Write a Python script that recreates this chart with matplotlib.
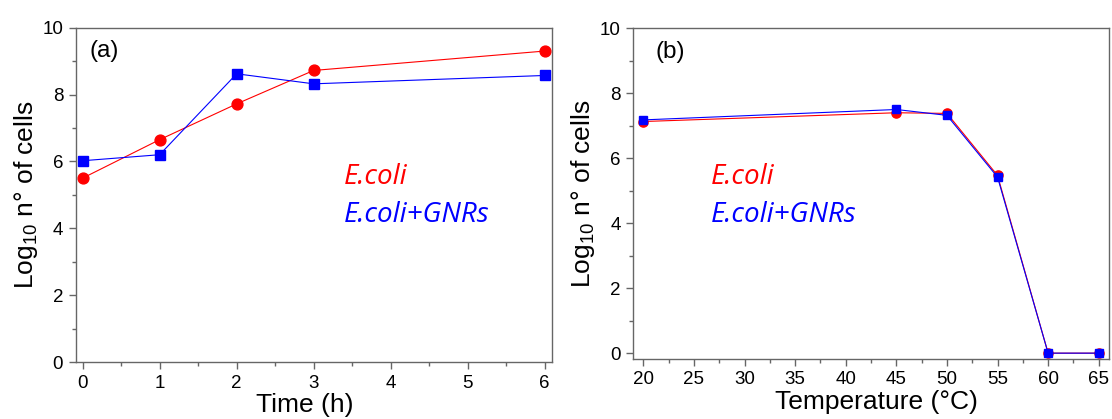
import matplotlib
matplotlib.use("Agg")
import matplotlib.pyplot as plt
from matplotlib.ticker import MultipleLocator

plt.rcParams['font.family'] = ['Liberation Sans', 'DejaVu Sans']
plt.rcParams['mathtext.fontset'] = 'custom'
plt.rcParams['mathtext.rm'] = 'Liberation Sans'

# panel (a): growth over time
time_h = [0, 1, 2, 3, 6]
ecoli_time = [5.5, 6.65, 7.72, 8.72, 9.3]
gnrs_time = [6.02, 6.2, 8.62, 8.32, 8.57]

# panel (b): temperature
temp_c = [20, 45, 50, 55, 60, 65]
ecoli_temp = [7.13, 7.4, 7.38, 5.47, 0, 0]
gnrs_temp = [7.18, 7.5, 7.32, 5.42, 0, 0]

red = '#ff0000'
blue = '#0000ff'
legend_font = ['Open Sans', 'DejaVu Sans']

fig = plt.figure(figsize=(11.12, 4.19), dpi=100)
ax1 = fig.add_axes([0.0681, 0.136, 0.4286, 0.798])
ax2 = fig.add_axes([0.5695, 0.1432, 0.4281, 0.7893])


def style(ax):
    for s in ax.spines.values():
        s.set_color('#666666')
        s.set_linewidth(1.0)
    ax.tick_params(which='major', direction='out', length=5, width=1,
                   labelsize=13.5, color='#666666', pad=4)
    ax.tick_params(which='minor', direction='out', length=3, width=1, color='#666666')
    ax.tick_params(top=False, right=False)


ax1.plot(time_h, ecoli_time, color=red, lw=0.8, marker='o', ms=7.8)
ax1.plot(time_h, gnrs_time, color=blue, lw=0.8, marker='s', ms=6.8)
ax1.set_xlim(-0.09, 6.1)
ax1.set_ylim(0, 10)
ax1.xaxis.set_major_locator(MultipleLocator(1))
ax1.xaxis.set_minor_locator(MultipleLocator(0.5))
ax1.yaxis.set_major_locator(MultipleLocator(2))
ax1.yaxis.set_minor_locator(MultipleLocator(1))
style(ax1)
ax1.set_xlabel('Time (h)', fontsize=19, labelpad=1, x=0.481)
ax1.set_ylabel(r'Log$_{10}$ n° of cells', fontsize=19, labelpad=2)
ax1.text(0.0285, 0.962, '(a)', transform=ax1.transAxes, fontsize=17.5, va='top')
ax1.text(0.563, 0.5316, 'E.coli', transform=ax1.transAxes, fontsize=20,
         color=red, style='italic', family=legend_font, va='baseline')
ax1.text(0.563, 0.4197, 'E.coli+GNRs', transform=ax1.transAxes, fontsize=20,
         color=blue, style='italic', family=legend_font, va='baseline')

ax2.plot(temp_c, ecoli_temp, color=red, lw=0.8, marker='o', ms=6.6)
ax2.plot(temp_c, gnrs_temp, color=blue, lw=0.8, marker='s', ms=6.0)
ax2.set_xlim(19.0, 66.05)
ax2.set_ylim(-0.18, 10)
ax2.xaxis.set_major_locator(MultipleLocator(5))
ax2.xaxis.set_minor_locator(MultipleLocator(2.5))
ax2.yaxis.set_major_locator(MultipleLocator(2))
ax2.yaxis.set_minor_locator(MultipleLocator(1))
style(ax2)
ax2.set_xlabel('Temperature (°C)', fontsize=19, labelpad=1, x=0.51)
ax2.set_ylabel(r'Log$_{10}$ n° of cells', fontsize=19, labelpad=2)
ax2.text(0.046, 0.962, '(b)', transform=ax2.transAxes, fontsize=17.5, va='top')
ax2.text(0.1626, 0.528, 'E.coli', transform=ax2.transAxes, fontsize=20,
         color=red, style='italic', family=legend_font, va='baseline')
ax2.text(0.1626, 0.415, 'E.coli+GNRs', transform=ax2.transAxes, fontsize=20,
         color=blue, style='italic', family=legend_font, va='baseline')

fig.savefig('out.png', dpi=100)
